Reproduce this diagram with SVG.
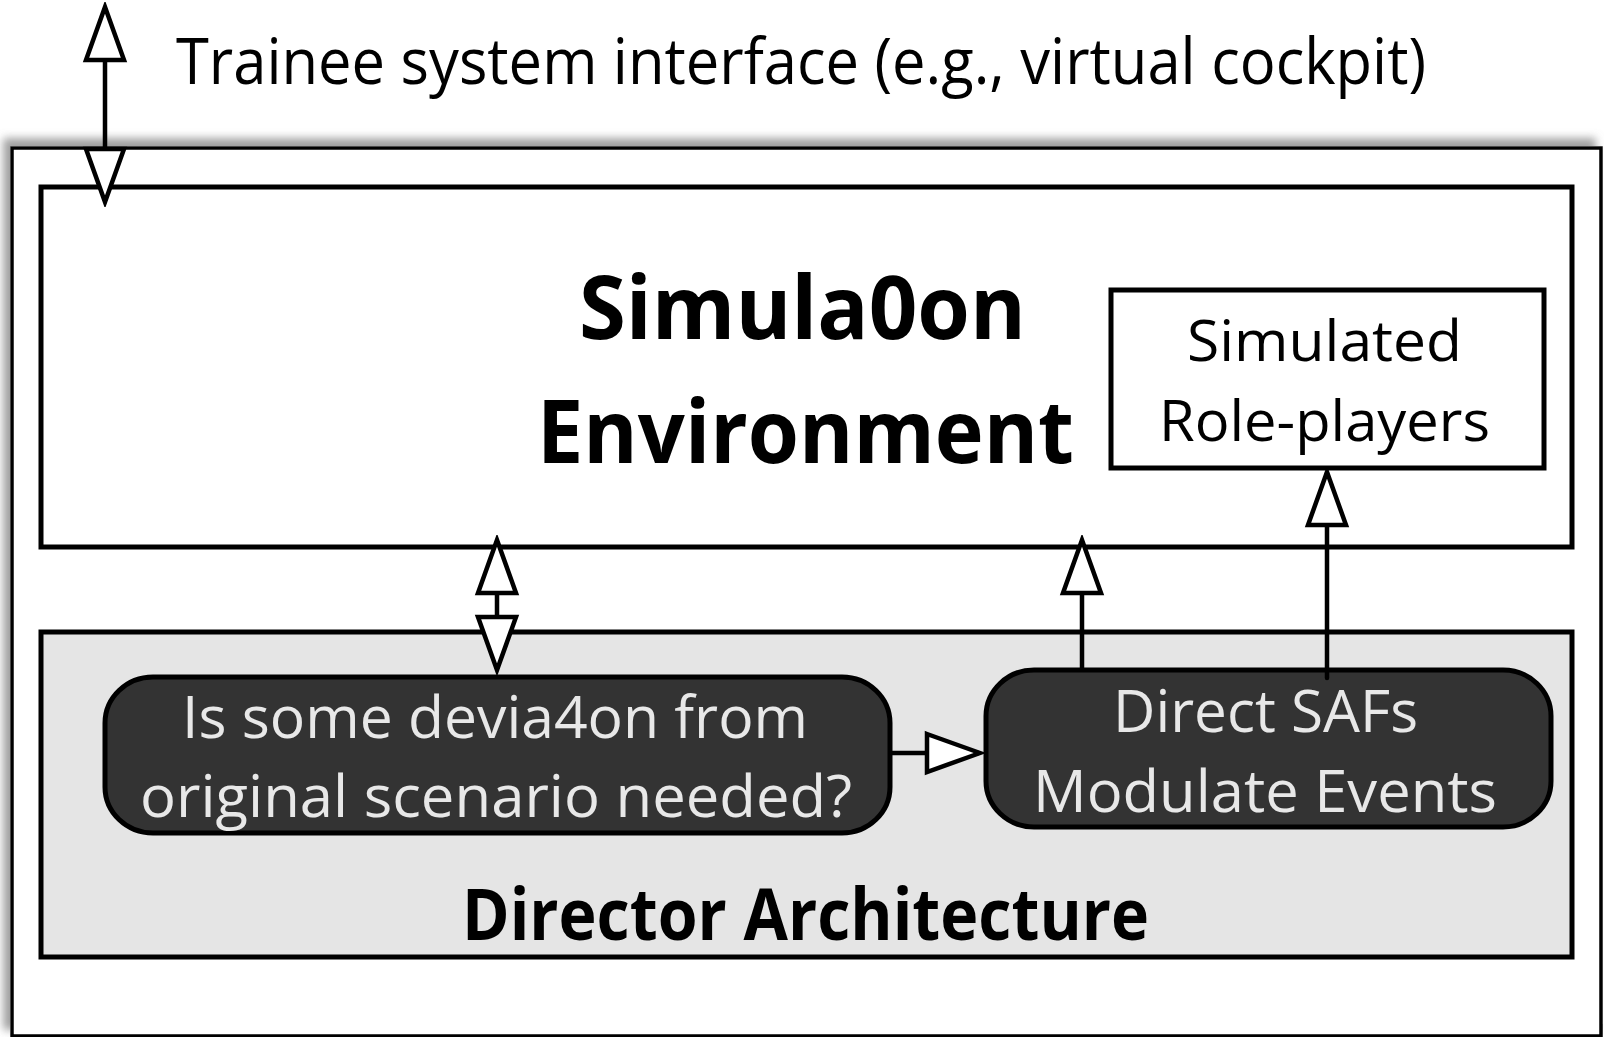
<svg xmlns="http://www.w3.org/2000/svg" width="1604" height="1037" viewBox="0 0 1604 1037">
<defs>
<style>
.t{font-family:"Open Sans","Liberation Sans",sans-serif;fill:#000}
.b{font-weight:bold}
.lt{fill:#e8e8e8}
.box{fill:#fff;stroke:#000;stroke-width:5}
.gray{fill:#e5e5e5;stroke:#000;stroke-width:5}
.dark{fill:#333;stroke:#000;stroke-width:5}
.c{fill:none;stroke:#000;stroke-width:4.5}
</style>
<marker id="ah" viewBox="-4 -4 62 48" refX="52" refY="20" markerWidth="62" markerHeight="48" markerUnits="userSpaceOnUse" orient="auto-start-reverse">
<path d="M0,1 L53,20 L0,39 Z" fill="#fff" stroke="#000" stroke-width="4.5"/>
</marker>
<filter id="sh" x="-3%" y="-5%" width="106%" height="110%">
<feDropShadow dx="-7" dy="-8" stdDeviation="4" flood-color="#888" flood-opacity="0.8"/>
</filter>
</defs>
<rect width="1604" height="1037" fill="#fff"/>

<g id="title">
<text class="t" x="176" y="84" font-size="64" textLength="1250" lengthAdjust="spacingAndGlyphs">Trainee system interface (e.g., virtual cockpit)</text>
</g>

<g id="outer">
<rect x="12" y="148" width="1589" height="888" fill="#fff" stroke="#000" stroke-width="3.5" filter="url(#sh)"/>
</g>

<g id="simulation-environment">
<rect class="box" x="41" y="187" width="1531" height="360"/>
<text class="t b" x="579" y="339" font-size="88" textLength="447" lengthAdjust="spacingAndGlyphs">Simula0on</text>
<text class="t b" x="537" y="463" font-size="88" textLength="537" lengthAdjust="spacingAndGlyphs">Environment</text>
</g>

<g id="role-players">
<rect class="box" x="1111" y="290" width="433" height="178"/>
<text class="t" x="1187" y="361" font-size="57" textLength="275" lengthAdjust="spacingAndGlyphs">Simulated</text>
<text class="t" x="1159" y="441" font-size="57" textLength="331" lengthAdjust="spacingAndGlyphs">Role-players</text>
</g>

<g id="director-architecture">
<rect class="gray" x="41" y="632" width="1531" height="325"/>
<text class="t b" x="462" y="940" font-size="72" textLength="687" lengthAdjust="spacingAndGlyphs">Director Architecture</text>
</g>

<g id="deviation-question">
<rect class="dark" x="105" y="677" width="785" height="156" rx="48" ry="46"/>
<text class="t lt" x="182" y="738" font-size="58" textLength="626" lengthAdjust="spacingAndGlyphs">Is some devia4on from</text>
<text class="t lt" x="140" y="817" font-size="58" textLength="712" lengthAdjust="spacingAndGlyphs">original scenario needed?</text>
</g>

<g id="direct-safs">
<rect class="dark" x="986" y="670" width="565" height="157" rx="48" ry="46"/>
<text class="t lt" x="1113" y="732" font-size="58" textLength="305" lengthAdjust="spacingAndGlyphs">Direct SAFs</text>
<text class="t lt" x="1033" y="812" font-size="58" textLength="464" lengthAdjust="spacingAndGlyphs">Modulate Events</text>
</g>

<g id="connectors">
<line class="c" x1="105" y1="8" x2="105" y2="201" marker-start="url(#ah)" marker-end="url(#ah)"/>
<line class="c" x1="497" y1="541" x2="497" y2="669" marker-start="url(#ah)" marker-end="url(#ah)"/>
<line class="c" x1="1082" y1="670" x2="1082" y2="541" marker-end="url(#ah)"/>
<line class="c" x1="1327" y1="678" x2="1327" y2="473" marker-end="url(#ah)" stroke-linecap="round"/>
<line class="c" x1="890" y1="753" x2="979" y2="753" marker-end="url(#ah)"/>
</g>
</svg>
